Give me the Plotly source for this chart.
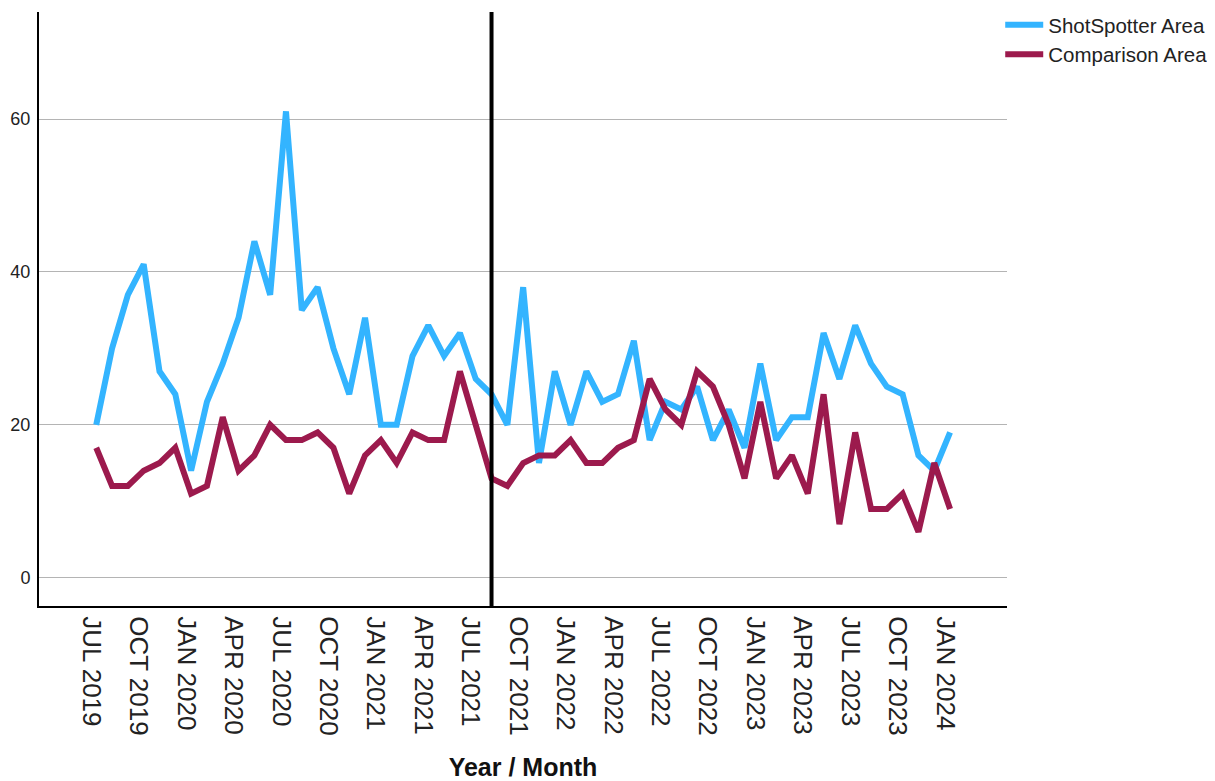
import pandas as pd
import plotly.graph_objects as go

# ---- data ----
months = [p.strftime("%b %Y").upper() for p in pd.period_range("2019-07", "2024-01", freq="M")]

shotspotter = [20, 30, 37, 41, 27, 24, 14, 23, 28, 34, 44, 37, 61, 35, 38, 30, 24, 34,
               20, 20, 29, 33, 29, 32, 26, 24, 20, 38, 15, 27, 20, 27, 23, 24, 31, 18,
               23, 22, 25, 18, 22, 17, 28, 18, 21, 21, 32, 26, 33, 28, 25, 24, 16, 14, 19]
comparison = [17, 12, 12, 14, 15, 17, 11, 12, 21, 14, 16, 20, 18, 18, 19, 17, 11, 16,
              18, 15, 19, 18, 18, 27, 20, 13, 12, 15, 16, 16, 18, 15, 15, 17, 18, 26,
              22, 20, 27, 25, 20, 13, 23, 13, 16, 11, 24, 7, 19, 9, 9, 11, 6, 15, 9]

tick_labels = months[::3]
y_ticks = [0, 20, 40, 60]
intervention = "AUG 2021"

FONT = "Arial, Liberation Sans, sans-serif"
BLUE = "#33b4ff"
RED = "#9c1a4d"

fig = go.Figure()
fig.add_trace(go.Scatter(x=months, y=shotspotter, mode="lines", name="ShotSpotter Area",
                         line=dict(color=BLUE, width=6)))
fig.add_trace(go.Scatter(x=months, y=comparison, mode="lines", name="Comparison Area",
                         line=dict(color=RED, width=6)))

iv = months.index(intervention)
fig.add_shape(type="line", xref="x", yref="paper", x0=iv, x1=iv, y0=0, y1=1,
              line=dict(color="black", width=4), layer="above")

# page body has an 8px default margin, so the figure is sized/margined to compensate
fig.update_layout(
    width=1207, height=773,
    margin=dict(l=31, r=208, t=4, b=175, autoexpand=False),
    paper_bgcolor="white", plot_bgcolor="white",
    font=dict(family=FONT, color="#222222"),
    showlegend=True,
    legend=dict(x=0.993, xanchor="left", y=1.012, yanchor="top",
                font=dict(size=20.5, family=FONT, color="#222222"),
                bgcolor="rgba(0,0,0,0)", borderwidth=0, itemwidth=38,
                tracegroupgap=0),
)

fig.update_xaxes(
    type="category", categoryorder="array", categoryarray=months,
    range=[-3.62, 57.6],
    tickmode="array", tickvals=tick_labels, ticktext=tick_labels,
    tickangle=90, ticks="", ticklabelshift=-5, ticklabelstandoff=3,
    tickfont=dict(size=26, family=FONT, color="#222222"),
    showline=True, linecolor="black", linewidth=2, mirror=False,
    showgrid=False, zeroline=False,
    title=dict(text="<b>Year / Month</b>", standoff=30,
               font=dict(size=25, family=FONT, color="#111111")),
)
fig.update_yaxes(
    range=[-3.7, 74], tickmode="array", tickvals=y_ticks,
    ticks="", ticklabelstandoff=3,
    tickfont=dict(size=18, family=FONT, color="#222222"),
    showline=True, linecolor="black", linewidth=2, mirror=False,
    showgrid=True, gridcolor="#b4b4b4", gridwidth=1, zeroline=False,
)

fig.write_html("out.html")
